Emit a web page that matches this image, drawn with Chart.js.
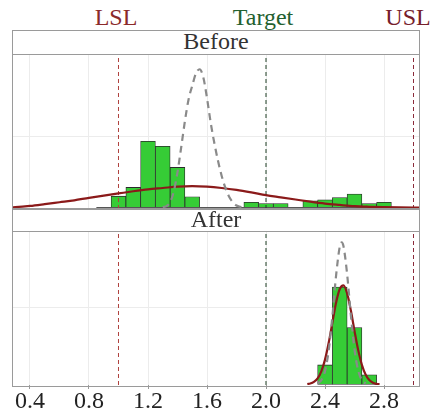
<!DOCTYPE html>
<html lang="en">
<head>
  <meta charset="UTF-8" />
  <title>Before / After capability histogram</title>
  <script src="https://cdn.jsdelivr.net/npm/chart.js"></script>
  <style>
    html, body { margin: 0; padding: 0; background: #fff; }
    #wrap { position: relative; width: 435px; height: 418px; font-family: "Liberation Serif", serif; }
    canvas { position: absolute; }
    .lbl { position: absolute; font-size: 24px; line-height: 24px; transform: translateX(-50%); white-space: nowrap; }
    .strip { position: absolute; left: 12px; width: 408px; box-sizing: border-box; border: 1px solid #9a9a9a;
             background: #fff; text-align: center; font-size: 24px; color: #333; }
    .frame { position: absolute; box-sizing: border-box; border: 1px solid #9a9a9a; pointer-events: none; }
  </style>
</head>
<body>
<div id="wrap">
  <div class="lbl" style="left:116px; top:5px; color:#8b2a2a">LSL</div>
  <div class="lbl" style="left:263px; top:5px; color:#23602f">Target</div>
  <div class="lbl" style="left:408px; top:5px; color:#76202b">USL</div>

  <div class="strip" style="top:30px; height:25px; line-height:21px">Before</div>
  <canvas id="before" width="408" height="154" style="left:12px; top:55px"></canvas>
  <div class="strip" style="top:208px; height:24px; line-height:20px">After</div>
  <canvas id="after" width="435" height="186" style="left:0px; top:232px"></canvas>

  <div class="frame" style="left:12px; top:54px; width:408px; height:156px"></div>
  <div class="frame" style="left:12px; top:231px; width:408px; height:156px"></div>
</div>

<script>
  // x axis
  const xMin = 0.278;
  const xMax = 3.044;
  const xTicks = [0.4, 0.8, 1.2, 1.6, 2.0, 2.4, 2.8];

  // spec limits: LSL, Target, USL
  const specValues = [1.0, 2.0, 3.0];
  const specColors = ['#b0413e', '#1f3f24', '#8b2a3a'];

  // Before: histogram (density), bin width 0.1
  const beforeBins = [0.9, 1.0, 1.1, 1.2, 1.3, 1.4, 1.5, 1.6, 1.7, 1.8, 1.9, 2.0, 2.1, 2.2, 2.3, 2.4, 2.5, 2.6, 2.7, 2.8];
  const beforeDensity = [0, 0.42, 0.74, 2.42, 2.24, 1.47, 0.40, 0, 0, 0, 0.20, 0.15, 0.15, 0, 0.25, 0.29, 0.37, 0.50, 0.15, 0.20];

  // Before: overall fit (solid red)
  const beforeFitX = [0.278, 0.3, 0.4, 0.5, 0.6, 0.7, 0.8, 0.9, 1.0, 1.1, 1.2, 1.3, 1.4, 1.5, 1.6, 1.7, 1.8, 1.9, 2.0, 2.1, 2.2, 2.3, 2.4, 2.5, 2.6, 2.7, 2.8, 2.9, 3.0, 3.044];
  const beforeFitY = [0.015, 0.02, 0.065, 0.13, 0.2, 0.27, 0.36, 0.44, 0.52, 0.6, 0.67, 0.72, 0.77, 0.79, 0.77, 0.72, 0.65, 0.56, 0.46, 0.38, 0.30, 0.22, 0.15, 0.10, 0.055, 0.033, 0.018, 0.01, 0.006, 0.005];

  // Before: within fit (grey dashed)
  const beforeWithinX = [1.30, 1.325, 1.35, 1.375, 1.40, 1.425, 1.45, 1.475, 1.50, 1.525, 1.55, 1.575, 1.60, 1.625, 1.65, 1.675, 1.70, 1.725, 1.75, 1.775, 1.80, 1.825, 1.85];
  const beforeWithinY = [0.02, 0.06, 0.2, 0.6, 1.3, 2.2, 3.15, 3.95, 4.45, 4.9, 5.05, 4.75, 4.0, 3.1, 2.35, 1.7, 1.15, 0.72, 0.4, 0.2, 0.08, 0.03, 0.01];

  // After: histogram (density)
  const afterBins = [2.4, 2.5, 2.6, 2.7];
  const afterDensity = [1.07, 5.33, 3.12, 0.53];

  // After: overall fit (solid red)
  const afterFitX = [2.28, 2.30, 2.325, 2.35, 2.375, 2.40, 2.425, 2.45, 2.475, 2.50, 2.525, 2.55, 2.575, 2.60, 2.625, 2.65, 2.675, 2.70, 2.725, 2.75, 2.77];
  const afterFitY = [0.02, 0.05, 0.14, 0.33, 0.72, 1.36, 2.28, 3.39, 4.48, 5.23, 5.43, 4.99, 4.06, 2.93, 1.88, 1.07, 0.54, 0.24, 0.09, 0.03, 0.01];

  // After: within fit (grey dashed)
  const afterWithinX = [2.35, 2.375, 2.40, 2.425, 2.45, 2.475, 2.50, 2.513, 2.525, 2.55, 2.575, 2.60, 2.625, 2.65, 2.675];
  const afterWithinY = [0.06, 0.23, 0.73, 1.86, 3.73, 5.96, 7.54, 7.78, 7.58, 6.04, 3.82, 1.92, 0.76, 0.24, 0.06];

  // horizontal grid positions
  const beforeGridY = [2.6];
  const afterGridY = [4.2];

  const beforeY = [-0.047, 5.57];
  const afterY = [-0.03, 8.35];

  const green = '#36cc36';
  const red = '#8b1a1a';
  const grey = '#8a8a8a';

  function pts(xs, ys) { return xs.map((x, i) => ({ x: x, y: ys[i] })); }

  function buildDatasets(bins, dens, fitX, fitY, wX, wY, yr, baseline) {
    const ds = [
      {
        type: 'bar', data: pts(bins, dens), backgroundColor: green, borderColor: '#2b2b2b',
        borderWidth: 0.8, borderSkipped: false, barPercentage: 1, categoryPercentage: 1, order: 5
      },
      {
        type: 'line', data: pts(fitX, fitY), borderColor: red, borderWidth: 2.2,
        pointRadius: 0, cubicInterpolationMode: 'monotone', order: 2
      },
      {
        type: 'line', data: pts(wX, wY), borderColor: grey, borderWidth: 2.2, borderDash: [7, 5],
        pointRadius: 0, cubicInterpolationMode: 'monotone', order: 1
      }
    ];
    if (baseline) {
      ds.push({ type: 'line', data: pts(baseline, [0, 0]), borderColor: '#555', borderWidth: 1.2, pointRadius: 0, order: 4 });
    }
    specValues.forEach((v, i) => {
      ds.push({
        type: 'line', data: pts([v, v], yr), borderColor: specColors[i], borderWidth: 1,
        borderDash: [4, 3], pointRadius: 0, order: 3
      });
    });
    return ds;
  }

  function xScale(showTicks) {
    return {
      type: 'linear', min: xMin, max: xMax, offset: false,
      afterBuildTicks: s => { s.ticks = xTicks.map(v => ({ value: v })); },
      grid: { color: '#ececec', offset: false, drawTicks: showTicks, tickLength: 4, tickColor: '#9a9a9a' },
      border: { display: false },
      ticks: {
        display: showTicks, padding: 1, color: '#222', maxRotation: 0,
        font: { family: 'Liberation Serif', size: 24, lineHeight: 1 },
        callback: v => v.toFixed(1)
      }
    };
  }

  function yScale(yr, grid) {
    return {
      type: 'linear', min: yr[0], max: yr[1],
      afterBuildTicks: s => { s.ticks = grid.map(v => ({ value: v })); },
      grid: { color: '#ececec', drawTicks: false },
      border: { display: false },
      ticks: { display: false }
    };
  }

  const common = {
    responsive: false, animation: false, events: [],
    plugins: { legend: { display: false }, tooltip: { enabled: false } }
  };

  new Chart(document.getElementById('before'), {
    type: 'bar',
    data: { datasets: buildDatasets(beforeBins, beforeDensity, beforeFitX, beforeFitY, beforeWithinX, beforeWithinY, beforeY, [0.85, 2.85]) },
    options: Object.assign({}, common, {
      layout: { padding: 0 },
      scales: { x: xScale(false), y: yScale(beforeY, beforeGridY) }
    })
  });

  new Chart(document.getElementById('after'), {
    type: 'bar',
    data: { datasets: buildDatasets(afterBins, afterDensity, afterFitX, afterFitY, afterWithinX, afterWithinY, afterY, null) },
    options: Object.assign({}, common, {
      layout: { padding: { left: 12, right: 15, top: 0, bottom: 3 } },
      scales: { x: xScale(true), y: yScale(afterY, afterGridY) }
    })
  });
</script>
</body>
</html>
